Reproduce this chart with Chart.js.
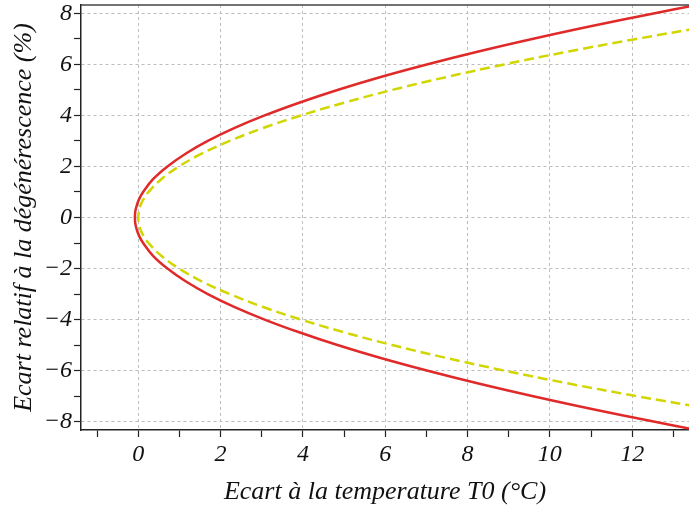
<!DOCTYPE html>
<html>
<head>
<meta charset="utf-8">
<script src="https://cdn.jsdelivr.net/npm/chart.js@4/dist/chart.umd.min.js"></script>
<style>
  body { margin: 0; background: #fff; }
  #wrap { width: 689px; height: 512px; }
</style>
</head>
<body>
<div id="wrap"><canvas id="courbe" width="689" height="512"></canvas></div>
<script>
// valeurs
const yRouge = [-8.3, -8, -7.5, -7, -6.5, -6, -5.5, -5, -4.5, -4, -3.5, -3, -2.5, -2, -1.5, -1, -0.75, -0.5, -0.25, 0,
  0.25, 0.5, 0.75, 1, 1.5, 2, 2.5, 3, 3.5, 4, 4.5, 5, 5.5, 6, 6.5, 7, 7.5, 8, 8.3]
const xRouge = [13.48, 12.52, 10.99, 9.57, 8.24, 7.01, 5.87, 4.84, 3.91, 3.07, 2.33, 1.69, 1.15, 0.71, 0.36, 0.12, 0.03, -0.03, -0.07, -0.08,
  -0.07, -0.03, 0.03, 0.12, 0.36, 0.71, 1.15, 1.69, 2.33, 3.07, 3.91, 4.84, 5.87, 7.01, 8.24, 9.57, 10.99, 12.52, 13.48]

const yJaune = [-7.5, -7, -6.5, -6, -5.5, -5, -4.5, -4, -3.5, -3, -2.5, -2, -1.5, -1, -0.75, -0.5, -0.25, 0,
  0.25, 0.5, 0.75, 1, 1.5, 2, 2.5, 3, 3.5, 4, 4.5, 5, 5.5, 6, 6.5, 7, 7.5]
const xJaune = [13.89, 12.1, 10.43, 8.89, 7.47, 6.17, 5.0, 3.95, 3.02, 2.22, 1.54, 0.99, 0.56, 0.25, 0.14, 0.06, 0.02, 0,
  0.02, 0.06, 0.14, 0.25, 0.56, 0.99, 1.54, 2.22, 3.02, 3.95, 5.0, 6.17, 7.47, 8.89, 10.43, 12.1, 13.89]

const xMin = -1.39, xMax = 13.38
const yMin = -8.33, yMax = 8.33

function points(xs, ys) {
  var pts = []
  for (var i = 0; i < xs.length; i++) {
    pts.push({ x: xs[i], y: ys[i] })
  }
  return pts
}

function etiquette(v) {
  if (v % 2 !== 0) return ''
  return v < 0 ? '\u2212' + Math.abs(v) : String(v)
}

const police = { family: "'Liberation Serif', serif", style: 'italic', size: 24 }
const policeTitre = { family: "'Liberation Serif', serif", style: 'italic', size: 26 }

// trait du haut du cadre
const cadreHaut = {
  id: 'cadreHaut',
  afterDraw(chart) {
    const a = chart.chartArea
    const ctx = chart.ctx
    ctx.save()
    ctx.strokeStyle = '#444'
    ctx.lineWidth = 1.5
    ctx.beginPath()
    ctx.moveTo(a.left, a.top)
    ctx.lineTo(a.right, a.top)
    ctx.stroke()
    ctx.restore()
  }
}

function grille(ctx) {
  return ctx.tick && ctx.tick.value % 2 === 0 ? '#bdbdbd' : 'rgba(0,0,0,0)'
}

new Chart(document.getElementById('courbe'), {
  type: 'scatter',
  data: {
    datasets: [
      {
        data: points(xJaune, yJaune),
        showLine: true,
        borderColor: '#d2d600',
        borderWidth: 2.5,
        borderDash: [10, 5],
        pointRadius: 0,
        tension: 0.4,
        fill: false
      },
      {
        data: points(xRouge, yRouge),
        showLine: true,
        borderColor: '#e02a2a',
        borderWidth: 2.5,
        pointRadius: 0,
        tension: 0.4,
        fill: false
      }
    ]
  },
  options: {
    responsive: false,
    animation: false,
    layout: { padding: { top: 5, right: 0, left: 0, bottom: 0 } },
    plugins: { legend: { display: false }, tooltip: { enabled: false } },
    scales: {
      x: {
        type: 'linear',
        min: xMin,
        max: xMax,
        afterFit(scale) { scale.height = 82; scale.paddingLeft = 0; scale.paddingRight = 0 },
        ticks: {
          stepSize: 1,
          includeBounds: false,
          autoSkip: false,
          maxRotation: 0,
          padding: 3,
          color: '#111',
          font: police,
          callback: etiquette
        },
        grid: { color: grille, lineWidth: 1, tickColor: '#222', tickLength: 7, tickWidth: 1.2 },
        border: { display: true, color: '#222', width: 1.5, dash: [3, 3] },
        title: { display: true, text: 'Ecart à la temperature T0 (°C)', color: '#111', font: policeTitre, padding: { top: 0, bottom: 4 } }
      },
      y: {
        type: 'linear',
        min: yMin,
        max: yMax,
        afterFit(scale) { scale.width = 81; scale.paddingTop = 0; scale.paddingBottom = 0 },
        ticks: {
          stepSize: 1,
          includeBounds: false,
          autoSkip: false,
          padding: 2,
          color: '#111',
          font: police,
          callback: etiquette
        },
        grid: { color: grille, lineWidth: 1, tickColor: '#222', tickLength: 7, tickWidth: 1.2 },
        border: { display: true, color: '#222', width: 1.5, dash: [3, 3] },
        title: { display: true, text: 'Ecart relatif à la dégénérescence (%)', color: '#111', font: policeTitre, padding: { top: 9, bottom: 0 } }
      }
    }
  },
  plugins: [cadreHaut]
})
</script>
</body>
</html>
